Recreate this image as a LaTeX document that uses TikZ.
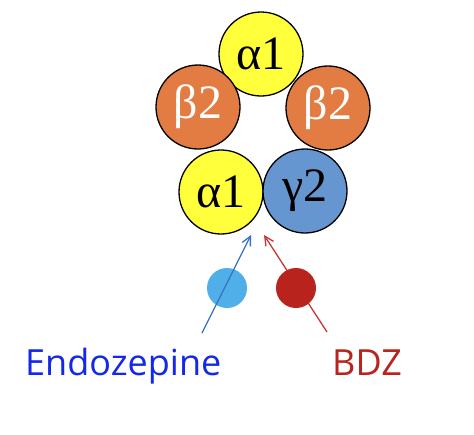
\documentclass[tikz,border=0pt]{standalone}
\usepackage{fontspec}
\setmainfont{Liberation Serif}
\newfontfamily\tagfont{Open Sans}
\usepackage{xcolor}
\definecolor{subyellow}{RGB}{255,255,60}
\definecolor{suborange}{RGB}{226,124,66}
\definecolor{subblue}{RGB}{102,150,208}
\definecolor{endoblue}{RGB}{20,40,235}
\definecolor{endodot}{RGB}{80,175,232}
\definecolor{endoline}{RGB}{55,115,195}
\definecolor{bdzred}{RGB}{185,35,30}
\definecolor{bdzline}{RGB}{195,55,55}
\usepackage{tikz}
\usetikzlibrary{arrows.meta, positioning}

\tikzset{
  subunit/.style={circle, draw=black, line width=1.3pt, minimum size=84pt,
                  inner sep=0pt, font=\fontsize{48}{48}\selectfont},
  ligand/.style={circle, minimum size=40pt, inner sep=0pt},
  ligandname/.style={font=\tagfont\fontsize{36}{36}\selectfont, anchor=base west, inner sep=0pt},
  binds/.style={-{Straight Barb[length=9pt,width=9pt]}, line width=1.3pt}
}

\begin{document}
\begin{tikzpicture}[x=1pt, y=-1pt]
      \useasboundingbox (0,0) rectangle (474,434);
      % the five subunits of the receptor
      \node[subunit, fill=subyellow] (alphatop) at (261,54) {α1};
      \node[subunit, fill=suborange, text=white] (betaleft) at (198,107) {β2};
      \node[subunit, fill=suborange, text=white] (betaright) at (328,108) {β2};
      \node[subunit, fill=subyellow] (alphalow) at (221,192) {α1};
      \node[subunit, fill=subblue] (gamma) at (305,191) {γ2};

      % ligands
      \node[ligand, fill=endodot] (endodot) at (227,288) {};
      \node[ligandname, text=endoblue] (endo) at (25,375) {Endozepine};
      \node[ligandname, text=bdzred] (bdz) at (332,375) {BDZ};

      \coordinate (endostart) at (202,333);
      \coordinate (endotip) at (251,235);
      \coordinate (bdzstart) at (327,332);
      \coordinate (bdztip) at (264,235);
      \draw[binds, endoline] (endostart) -- (endotip);
      \draw[binds, bdzline] (bdzstart) -- (bdztip);
      \node[ligand, fill=bdzred] (bdzdot) at (296,288) {};
\end{tikzpicture}
\end{document}
